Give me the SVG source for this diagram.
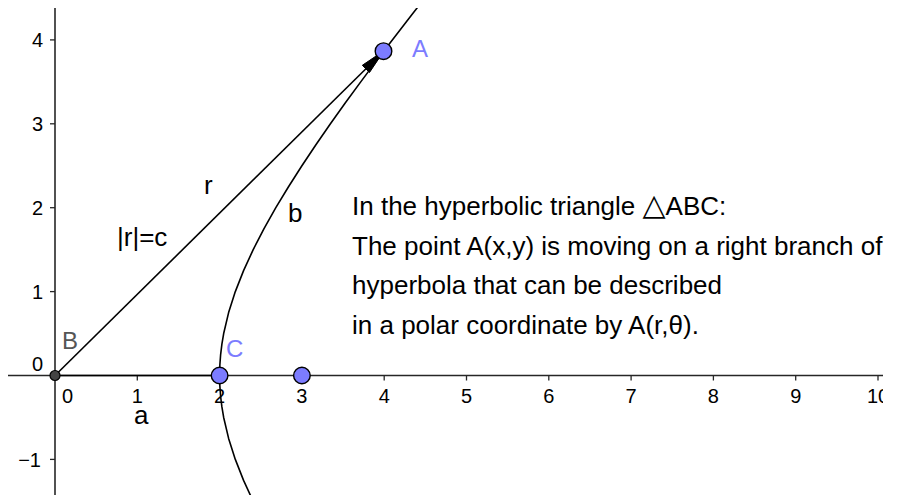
<svg xmlns="http://www.w3.org/2000/svg" width="899" height="495" viewBox="0 0 899 495">
<style>
.ax{stroke:#262626;stroke-width:1.6;fill:none}
.tk{stroke:#262626;stroke-width:1.3}
.ln{stroke:#000;stroke-width:1.6;fill:none;stroke-linejoin:round}
.num{font-family:"Liberation Sans",Arial,sans-serif;font-size:20px;fill:#000}
.lab{font-family:"Liberation Sans",Arial,sans-serif;font-size:26px;fill:#000}
.plab{font-family:"Liberation Sans",Arial,sans-serif;font-size:24px;fill:#7c7cff}
.txt{font-family:"Liberation Sans",Arial,"DejaVu Sans",sans-serif;font-size:26px;fill:#000}
.pt{fill:#7c7cff;stroke:#000;stroke-width:1.4}
</style>
<defs>
<clipPath id="view"><rect x="8" y="8" width="875" height="487"/></clipPath>
</defs>
<rect width="899" height="495" fill="#fff"/>
<g id="axes" clip-path="url(#view)">
<line class="ax" x1="0" y1="375.5" x2="883" y2="375.5"/>
<line class="ax" x1="55" y1="0" x2="55" y2="495"/>
<g class="tk">
<line x1="137.3" y1="375.5" x2="137.3" y2="380.5"/>
<line x1="219.6" y1="375.5" x2="219.6" y2="380.5"/>
<line x1="301.9" y1="375.5" x2="301.9" y2="380.5"/>
<line x1="384.2" y1="375.5" x2="384.2" y2="380.5"/>
<line x1="466.5" y1="375.5" x2="466.5" y2="380.5"/>
<line x1="548.8" y1="375.5" x2="548.8" y2="380.5"/>
<line x1="631.1" y1="375.5" x2="631.1" y2="380.5"/>
<line x1="713.4" y1="375.5" x2="713.4" y2="380.5"/>
<line x1="795.7" y1="375.5" x2="795.7" y2="380.5"/>
<line x1="878" y1="375.5" x2="878" y2="380.5"/>
<line x1="50" y1="39.9" x2="55" y2="39.9"/>
<line x1="50" y1="123.8" x2="55" y2="123.8"/>
<line x1="50" y1="207.7" x2="55" y2="207.7"/>
<line x1="50" y1="291.6" x2="55" y2="291.6"/>
<line x1="50" y1="459.4" x2="55" y2="459.4"/>
</g>
<g class="num" text-anchor="middle">
<text x="67.5" y="402.5">0</text>
<text x="137.3" y="402.5">1</text>
<text x="219.6" y="402.5">2</text>
<text x="301.9" y="402.5">3</text>
<text x="384.2" y="402.5">4</text>
<text x="466.5" y="402.5">5</text>
<text x="548.8" y="402.5">6</text>
<text x="631.1" y="402.5">7</text>
<text x="713.4" y="402.5">8</text>
<text x="795.7" y="402.5">9</text>
<text x="878" y="402.5">10</text>
</g>
<g class="num" text-anchor="end">
<text x="43" y="47">4</text>
<text x="43" y="131">3</text>
<text x="43" y="215">2</text>
<text x="43" y="299">1</text>
<text x="43" y="371">0</text>
<text x="41" y="467">−1</text>
</g>
</g>
<g id="connectors" clip-path="url(#view)">
<path id="hyperbola-b" class="ln" d="M253.2,501.35 L243.57,480.38 L235.31,459.4 L228.61,438.43 L223.67,417.45 L221.9,406.96 L220.63,396.48 L219.86,385.99 L219.6,375.5 L219.86,365.01 L220.63,354.53 L221.9,344.04 L223.67,333.55 L228.61,312.58 L235.31,291.6 L243.57,270.63 L253.2,249.65 L264.02,228.68 L275.83,207.7 L288.51,186.73 L301.9,165.75 L315.91,144.78 L330.43,123.8 L345.39,102.83 L360.73,81.85 L376.39,60.88 L384.2,50.55 L392.33,39.9 L408.51,18.93 L424.89,-2.05"/>
<line id="segment-a" class="ln" x1="55" y1="375.5" x2="219.6" y2="375.5"/>
<line id="vector-r" class="ln" x1="55" y1="375.5" x2="370" y2="64.7"/>
<polygon id="arrowhead" points="384.2,50.55 362.3,65.3 369.5,72.5" fill="#000" stroke="#000" stroke-width="1" stroke-linejoin="round"/>
</g>
<g id="node-B">
<circle cx="55" cy="375.5" r="5" fill="#444" stroke="#000" stroke-width="1.2"/>
<text x="62" y="349" class="lab" style="font-size:24px;fill:#555">B</text>
</g>
<g id="node-C">
<circle class="pt" cx="219.6" cy="375.5" r="8.3"/>
<text class="plab" x="226" y="356.5">C</text>
</g>
<g id="node-focus">
<circle class="pt" cx="301.9" cy="375.5" r="8.3"/>
</g>
<g id="node-A">
<circle class="pt" cx="383.5" cy="51.2" r="8.3"/>
<text class="plab" x="412" y="56.5">A</text>
</g>
<g id="labels" class="lab">
<text x="204" y="194">r</text>
<text x="117" y="246">|r|=c</text>
<text x="288" y="222">b</text>
<text x="134" y="424">a</text>
</g>
<g id="caption" class="txt">
<text x="352" y="214.5">In the hyperbolic triangle <tspan font-family="DejaVu Sans" font-size="30">△</tspan>ABC:</text>
<text x="352" y="254.5">The point A(x,y) is moving on a right branch of</text>
<text x="352" y="294">hyperbola that can be described</text>
<text x="352" y="333.5">in a polar coordinate by A(r,θ).</text>
</g>
</svg>
